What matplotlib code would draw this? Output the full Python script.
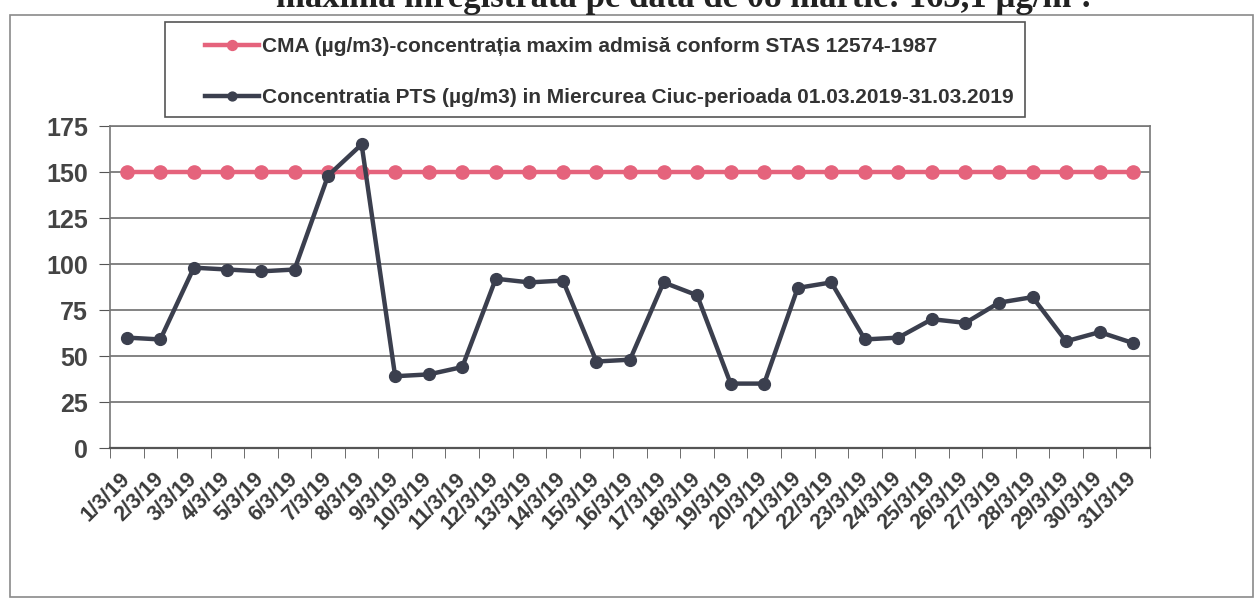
import numpy as np
import matplotlib
matplotlib.use("Agg")
import matplotlib.pyplot as plt
from matplotlib.patches import Rectangle

# data (PTS daily concentration, March 2019)
days = [f"{d}/3/19" for d in range(1, 32)]
cma = [150] * 31
pts = [60, 59, 98, 97, 96, 97, 148, 165, 39, 40, 44, 92, 90, 91, 47, 48,
       90, 83, 35, 35, 87, 90, 59, 60, 70, 68, 79, 82, 58, 63, 57]
yticks = [0, 25, 50, 75, 100, 125, 150, 175]

label_cma = "CMA (µg/m3)-concentrația maxim admisă conform STAS 12574-1987"
label_pts = "Concentratia PTS (µg/m3) in Miercurea Ciuc-perioada 01.03.2019-31.03.2019"

plt.rcParams['font.family'] = ['Liberation Sans', 'DejaVu Sans']

fig = plt.figure(figsize=(12.58, 6), dpi=100)
W, H = 1258, 600

# outer chart frame
fig.patches.append(Rectangle((10 / W, 3 / H), 1243 / W, 582 / H,
                             transform=fig.transFigure, fill=False,
                             edgecolor='#8a8a8a', linewidth=1.2))
# legend frame
fig.patches.append(Rectangle((165 / W, 1 - 117 / H), 860 / W, 95 / H,
                             transform=fig.transFigure, fill=False,
                             edgecolor='#555555', linewidth=1.2))

# cut-off text line above the chart
fig.text(1090 / W, 1 - 7 / H, "maximă înregistrată pe data de 08 martie: 165,1 µg/m³.",
         ha='right', va='baseline', fontsize=25, fontweight='bold',
         family=['Liberation Serif', 'DejaVu Serif'], color='#222222')

ax = fig.add_axes([110 / W, 1 - 448 / H, 1040 / W, 322 / H])
x = np.arange(len(days))

ax.plot(x, cma, color='#e5637c', lw=3.2, marker='o', ms=9.5, label=label_cma)
ax.plot(x, pts, color='#3b3f4e', lw=3.2, marker='o', ms=8.5, label=label_pts)

ax.set_xlim(-0.5, len(days) - 0.5)
ax.set_ylim(0, 175)
ax.set_yticks(yticks)
ax.set_yticklabels([str(v) for v in yticks], fontsize=18, fontweight='bold',
                   color='#444444')
ax.yaxis.grid(True, color='#6e6e6e', lw=1.2)
ax.set_axisbelow(True)

ax.set_xticks(x)
ax.set_xticklabels(days, rotation=45, ha='right', va='center',
                   rotation_mode='anchor', fontsize=15.5, fontweight='bold',
                   color='#3a3a3a')
ax.set_xticks(np.arange(-0.5, len(days)), minor=True)
ax.tick_params(axis='x', which='major', length=0, pad=20)
ax.tick_params(axis='x', which='minor', length=7, color='#555555')
ax.tick_params(axis='y', length=8, color='#555555', pad=8)

for s in ax.spines.values():
    s.set_color('#777777')
    s.set_linewidth(1.2)
ax.spines['bottom'].set_color('#555555')
ax.spines['bottom'].set_linewidth(1.6)

leg = fig.legend(loc='upper left', bbox_to_anchor=(205 / W, 1 - 37 / H),
                 fontsize=15, frameon=False, handlelength=2.6,
                 handletextpad=0.15, labelspacing=1.55, borderpad=0,
                 borderaxespad=0, markerscale=0.75)
for t in leg.get_texts():
    t.set_color('#333333')
    t.set_fontweight('bold')

fig.savefig("out.png", dpi=100)
